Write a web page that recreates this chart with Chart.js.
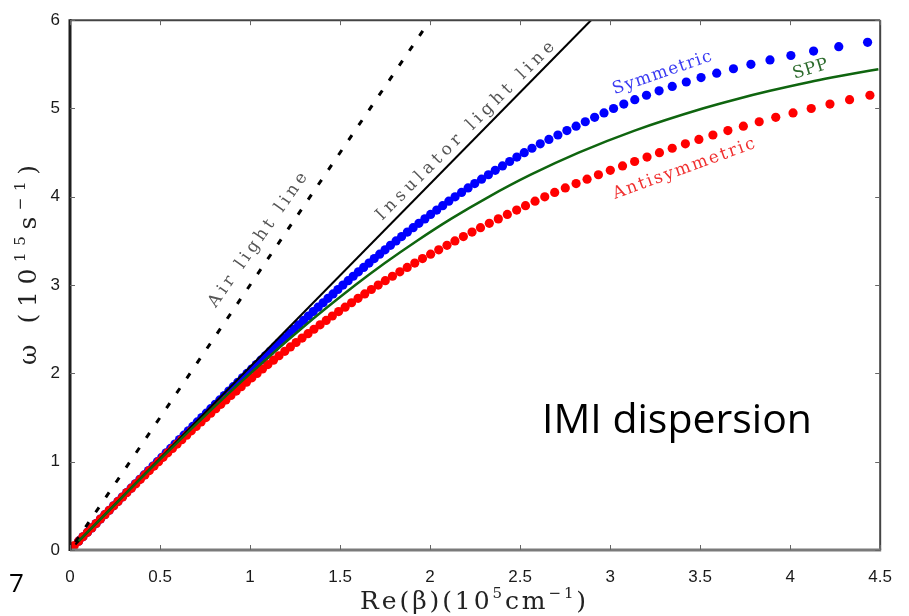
<!DOCTYPE html>
<html>
<head>
<meta charset="utf-8">
<title>IMI dispersion</title>
<script src="https://cdn.jsdelivr.net/npm/chart.js@4.4.1/dist/chart.umd.min.js"></script>
<style>
  html, body { margin: 0; padding: 0; background: #ffffff; }
  #wrap { position: relative; width: 909px; height: 616px; }
  canvas { display: block; }
</style>
</head>
<body>
<div id="wrap"><canvas id="chart" width="909" height="616"></canvas></div>
<script>
// Re(beta) in 1e5 cm^-1, omega in 1e15 s^-1

// Symmetric mode (blue dots)
const symmetricOmega = [
  0.10, 0.15, 0.20, 0.25, 0.30, 0.35, 0.40, 0.45, 0.50, 0.55, 0.60, 0.65, 0.70, 0.75, 0.80, 0.85, 0.90, 0.95,
  1.00, 1.05, 1.10, 1.15, 1.20, 1.25, 1.30, 1.35, 1.40, 1.45, 1.50, 1.55, 1.60, 1.65, 1.70, 1.75, 1.80, 1.85, 1.90, 1.95,
  2.00, 2.05, 2.10, 2.15, 2.20, 2.25, 2.30, 2.35, 2.40, 2.45, 2.50, 2.55, 2.60, 2.65, 2.70, 2.75, 2.80, 2.85, 2.90, 2.95,
  3.00, 3.05, 3.10, 3.15, 3.20, 3.25, 3.30, 3.35, 3.40, 3.45, 3.50, 3.55, 3.60, 3.65, 3.70, 3.75, 3.80, 3.85, 3.90, 3.95,
  4.00, 4.05, 4.10, 4.15, 4.20, 4.25, 4.30, 4.35, 4.40, 4.45, 4.50, 4.55, 4.60, 4.65, 4.70, 4.75, 4.80, 4.85, 4.90, 4.95,
  5.00, 5.05, 5.10, 5.15, 5.20, 5.25, 5.30, 5.35, 5.40, 5.45, 5.50, 5.55, 5.60, 5.65, 5.70, 5.75
];
const symmetricBeta = [
  0.048, 0.072, 0.097, 0.121, 0.145, 0.169, 0.193, 0.218, 0.242, 0.266, 0.290, 0.315, 0.339, 0.363, 0.388, 0.412, 0.436, 0.461,
  0.485, 0.510, 0.534, 0.559, 0.583, 0.608, 0.633, 0.657, 0.682, 0.707, 0.732, 0.757, 0.782, 0.807, 0.832, 0.857, 0.882, 0.907, 0.932, 0.958,
  0.983, 1.009, 1.035, 1.060, 1.086, 1.112, 1.138, 1.164, 1.191, 1.217, 1.244, 1.270, 1.297, 1.324, 1.351, 1.378, 1.406, 1.433, 1.461, 1.488,
  1.516, 1.545, 1.573, 1.602, 1.631, 1.661, 1.690, 1.720, 1.750, 1.780, 1.811, 1.842, 1.874, 1.906, 1.938, 1.971, 2.003, 2.037, 2.070, 2.104,
  2.139, 2.175, 2.211, 2.248, 2.286, 2.324, 2.362, 2.402, 2.442, 2.482, 2.523, 2.566, 2.612, 2.660, 2.710, 2.760, 2.811, 2.862, 2.914, 2.966,
  3.019, 3.076, 3.137, 3.202, 3.272, 3.345, 3.423, 3.505, 3.592, 3.685, 3.782, 3.888, 4.004, 4.130, 4.270, 4.430
];

// Antisymmetric mode (red dots)
const antisymmetricOmega = [
  0.05, 0.10, 0.15, 0.20, 0.25, 0.30, 0.35, 0.40, 0.45, 0.50, 0.55, 0.60, 0.65, 0.70, 0.75, 0.80, 0.85, 0.90, 0.95,
  1.00, 1.05, 1.10, 1.15, 1.20, 1.25, 1.30, 1.35, 1.40, 1.45, 1.50, 1.55, 1.60, 1.65, 1.70, 1.75, 1.80, 1.85, 1.90, 1.95,
  2.00, 2.05, 2.10, 2.15, 2.20, 2.25, 2.30, 2.35, 2.40, 2.45, 2.50, 2.55, 2.60, 2.65, 2.70, 2.75, 2.80, 2.85, 2.90, 2.95,
  3.00, 3.05, 3.10, 3.15, 3.20, 3.25, 3.30, 3.35, 3.40, 3.45, 3.50, 3.55, 3.60, 3.65, 3.70, 3.75, 3.80, 3.85, 3.90, 3.95,
  4.00, 4.05, 4.10, 4.15, 4.20, 4.25, 4.30, 4.35, 4.40, 4.45, 4.50, 4.55, 4.60, 4.65, 4.70, 4.75, 4.80, 4.85, 4.90, 4.95,
  5.00, 5.05, 5.10, 5.15
];
const antisymmetricBeta = [
  0.024, 0.048, 0.072, 0.097, 0.121, 0.145, 0.169, 0.194, 0.218, 0.243, 0.267, 0.292, 0.316, 0.341, 0.366, 0.391, 0.416, 0.441, 0.467,
  0.492, 0.517, 0.543, 0.569, 0.595, 0.621, 0.648, 0.674, 0.701, 0.728, 0.755, 0.782, 0.810, 0.838, 0.866, 0.894, 0.923, 0.951, 0.980, 1.010,
  1.039, 1.069, 1.099, 1.130, 1.161, 1.193, 1.224, 1.256, 1.289, 1.322, 1.355, 1.389, 1.423, 1.457, 1.492, 1.528, 1.564, 1.600, 1.637, 1.674,
  1.712, 1.751, 1.791, 1.832, 1.873, 1.915, 1.958, 2.003, 2.048, 2.094, 2.138, 2.185, 2.233, 2.280, 2.329, 2.379, 2.429, 2.481, 2.530, 2.583,
  2.637, 2.692, 2.751, 2.811, 2.872, 2.935, 3.001, 3.069, 3.136, 3.205, 3.274, 3.345, 3.418, 3.493, 3.571, 3.654, 3.740, 3.828, 3.920, 4.016,
  4.117, 4.221, 4.330, 4.443
];

// Single-interface surface plasmon polariton (green line)
const sppOmega = [0.10, 0.50, 1.00, 1.50, 2.00, 2.50, 3.00, 3.25, 3.50, 3.75, 4.00, 4.25, 4.50, 4.75, 5.00, 5.10, 5.20, 5.30, 5.35, 5.40, 5.445];
const sppBeta  = [0.048, 0.242, 0.487, 0.739, 1.002, 1.281, 1.585, 1.749, 1.926, 2.116, 2.326, 2.559, 2.825, 3.136, 3.514, 3.691, 3.888, 4.109, 4.231, 4.361, 4.490];

// Light lines
const airLineBeta = [0.03, 2.00];
const airLineOmega = [0.09, 6.00];
const insulatorLineBeta = [0.03, 2.894];
const insulatorLineOmega = [0.062, 6.00];

// Axis ticks
const xTickValues = [0, 0.5, 1, 1.5, 2, 2.5, 3, 3.5, 4, 4.5];
const xTickLabels = ['0', '0.5', '1', '1.5', '2', '2.5', '3', '3.5', '4', '4.5'];
const yTickValues = [0, 1, 2, 3, 4, 5, 6];
const yTickLabels = ['0', '1', '2', '3', '4', '5', '6'];

// Axis titles as runs of normal / superscript text
const xAxisTitle = [{ t: 'Re(β)(10' }, { t: '5', sup: true }, { t: 'cm' }, { t: '−1', sup: true }, { t: ')' }];
const yAxisTitle = [{ t: 'ω (10' }, { t: '15', sup: true }, { t: 's' }, { t: '−1', sup: true }, { t: ')' }];
const slideText = 'IMI dispersion';
const slideNumber = '7';

function toPoints(xs, ys) {
  return xs.map((x, i) => ({ x: x, y: ys[i] }));
}

const SERIF = '"DejaVu Serif", "Liberation Serif", serif';

// Draw runs of text spread to a given length, centred at (cx, cy), rotated by angle (deg)
function spacedRuns(ctx, runs, cx, cy, angleDeg, targetLen, size, supSize, color) {
  ctx.save();
  ctx.fillStyle = color;
  ctx.textBaseline = 'alphabetic';
  ctx.textAlign = 'left';
  const glyphs = [];
  runs.forEach(r => {
    const font = (r.sup ? supSize : size) + 'px ' + SERIF;
    ctx.font = font;
    Array.from(r.t).forEach(c => {
      glyphs.push({ c: c, font: font, w: ctx.measureText(c).width, rise: r.sup ? -size * 0.42 : 0 });
    });
  });
  const natural = glyphs.reduce((a, g) => a + g.w, 0);
  const gap = glyphs.length > 1 ? Math.max(0, (targetLen - natural) / (glyphs.length - 1)) : 0;
  const total = natural + gap * (glyphs.length - 1);
  ctx.translate(cx, cy);
  ctx.rotate(angleDeg * Math.PI / 180);
  let x = -total / 2;
  const base = size * 0.35;
  glyphs.forEach(g => {
    ctx.font = g.font;
    ctx.fillText(g.c, x, base + g.rise);
    x += g.w + gap;
  });
  ctx.restore();
}

// Curve labels, anchored in data coordinates
const curveLabels = [
  { text: 'Air light line', beta: 1.038, omega: 3.52, angle: -55, len: 160, size: 17, color: '#555555' },
  { text: 'Insulator light line', beta: 2.19, omega: 4.755, angle: -45, len: 245, size: 17, color: '#555555' },
  { text: 'Symmetric', beta: 3.286, omega: 5.417, angle: -19, len: 104, size: 17, color: '#3a3af2' },
  { text: 'SPP', beta: 4.11, omega: 5.46, angle: -17, len: 36, size: 17, color: '#2d6b2d' },
  { text: 'Antisymmetric', beta: 3.407, omega: 4.33, angle: -20, len: 150, size: 17, color: '#f03030' }
];

const framePlugin = {
  id: 'frameAndText',
  afterDatasetsDraw(chart) {
    const ctx = chart.ctx;
    const a = chart.chartArea;
    const xs = chart.scales.x;
    const ys = chart.scales.y;

    // curve labels
    curveLabels.forEach(l => {
      spacedRuns(ctx, [{ t: l.text }], xs.getPixelForValue(l.beta), ys.getPixelForValue(l.omega),
        l.angle, l.len, l.size, l.size, l.color);
    });

    // box
    ctx.save();
    ctx.lineCap = 'butt';
    ctx.strokeStyle = '#444444';
    ctx.lineWidth = 2;
    ctx.beginPath(); ctx.moveTo(a.left, a.top); ctx.lineTo(a.right, a.top); ctx.stroke();
    ctx.beginPath(); ctx.moveTo(a.right, a.top); ctx.lineTo(a.right, a.bottom); ctx.stroke();
    ctx.strokeStyle = '#7a7a7a';
    ctx.lineWidth = 3;
    ctx.beginPath(); ctx.moveTo(a.left, a.bottom); ctx.lineTo(a.right + 1, a.bottom); ctx.stroke();
    ctx.strokeStyle = '#1e1e1e';
    ctx.lineWidth = 3;
    ctx.beginPath(); ctx.moveTo(a.left, a.top - 1); ctx.lineTo(a.left, a.bottom + 1); ctx.stroke();

    // inward tick marks on all four sides
    ctx.strokeStyle = '#666666';
    ctx.lineWidth = 1;
    const tl = 5;
    xTickValues.forEach(v => {
      const px = Math.round(xs.getPixelForValue(v)) + 0.5;
      ctx.beginPath(); ctx.moveTo(px, a.bottom); ctx.lineTo(px, a.bottom - tl); ctx.stroke();
      ctx.beginPath(); ctx.moveTo(px, a.top); ctx.lineTo(px, a.top + tl); ctx.stroke();
    });
    yTickValues.forEach(v => {
      const py = Math.round(ys.getPixelForValue(v)) + 0.5;
      ctx.beginPath(); ctx.moveTo(a.left, py); ctx.lineTo(a.left + tl, py); ctx.stroke();
      ctx.beginPath(); ctx.moveTo(a.right, py); ctx.lineTo(a.right - tl, py); ctx.stroke();
    });
    ctx.restore();

    // axis titles
    spacedRuns(ctx, xAxisTitle, (a.left + a.right) / 2 - 2, 600, 0, 226, 25, 15, '#222222');
    spacedRuns(ctx, yAxisTitle, 27, 265, -90, 200, 25, 15, '#222222');

    // slide text
    ctx.save();
    ctx.fillStyle = '#000000';
    ctx.textBaseline = 'alphabetic';
    ctx.textAlign = 'left';
    ctx.font = '41px "Open Sans", "Noto Sans", sans-serif';
    ctx.fillText(slideText, 542, 433);
    ctx.font = '26px "Open Sans", "Noto Sans", sans-serif';
    ctx.fillText(slideNumber, 9, 592);
    ctx.restore();
  }
};

const tickFont = { family: '"Liberation Sans", Arial, sans-serif', size: 17 };

new Chart(document.getElementById('chart'), {
  type: 'scatter',
  data: {
    datasets: [
      {
        label: 'SPP',
        type: 'line',
        data: toPoints(sppBeta, sppOmega),
        borderColor: '#0f650f',
        borderWidth: 2.5,
        pointRadius: 0,
        cubicInterpolationMode: 'monotone',
        fill: false,
        order: 0
      },
      {
        label: 'Insulator light line',
        type: 'line',
        data: toPoints(insulatorLineBeta, insulatorLineOmega),
        borderColor: '#000000',
        borderWidth: 2,
        pointRadius: 0,
        fill: false,
        order: 1
      },
      {
        label: 'Air light line',
        type: 'line',
        data: toPoints(airLineBeta, airLineOmega),
        borderColor: '#000000',
        borderWidth: 3,
        borderDash: [6, 12],
        pointRadius: 0,
        fill: false,
        order: 1
      },
      {
        label: 'Antisymmetric',
        data: toPoints(antisymmetricBeta, antisymmetricOmega),
        backgroundColor: '#ff0000',
        borderWidth: 0,
        pointRadius: 4.6,
        pointStyle: 'circle',
        showLine: false,
        clip: false,
        order: 2
      },
      {
        label: 'Symmetric',
        data: toPoints(symmetricBeta, symmetricOmega),
        backgroundColor: '#0000ff',
        borderWidth: 0,
        pointRadius: 4.6,
        pointStyle: 'circle',
        showLine: false,
        clip: false,
        order: 3
      }
    ]
  },
  options: {
    responsive: false,
    animation: false,
    devicePixelRatio: 1,
    layout: { padding: { left: 0, right: 20, top: 15, bottom: 0 } },
    plugins: { legend: { display: false }, tooltip: { enabled: false } },
    scales: {
      x: {
        type: 'linear',
        min: 0,
        max: 4.5,
        afterFit(s) { s.height = 66; },
        afterBuildTicks(s) { s.ticks = xTickValues.map(v => ({ value: v })); },
        grid: { display: false, drawTicks: false },
        border: { display: false },
        ticks: {
          padding: 17,
          autoSkip: false,
          maxRotation: 0,
          color: '#1a1a1a',
          font: tickFont,
          callback: (v) => xTickLabels[xTickValues.indexOf(v)]
        }
      },
      y: {
        type: 'linear',
        min: 0,
        max: 6,
        afterFit(s) { s.width = 70; },
        afterBuildTicks(s) { s.ticks = yTickValues.map(v => ({ value: v })); },
        grid: { display: false, drawTicks: false },
        border: { display: false },
        ticks: {
          padding: 10,
          autoSkip: false,
          color: '#1a1a1a',
          font: tickFont,
          callback: (v) => yTickLabels[yTickValues.indexOf(v)]
        }
      }
    }
  },
  plugins: [framePlugin]
});
</script>
</body>
</html>
